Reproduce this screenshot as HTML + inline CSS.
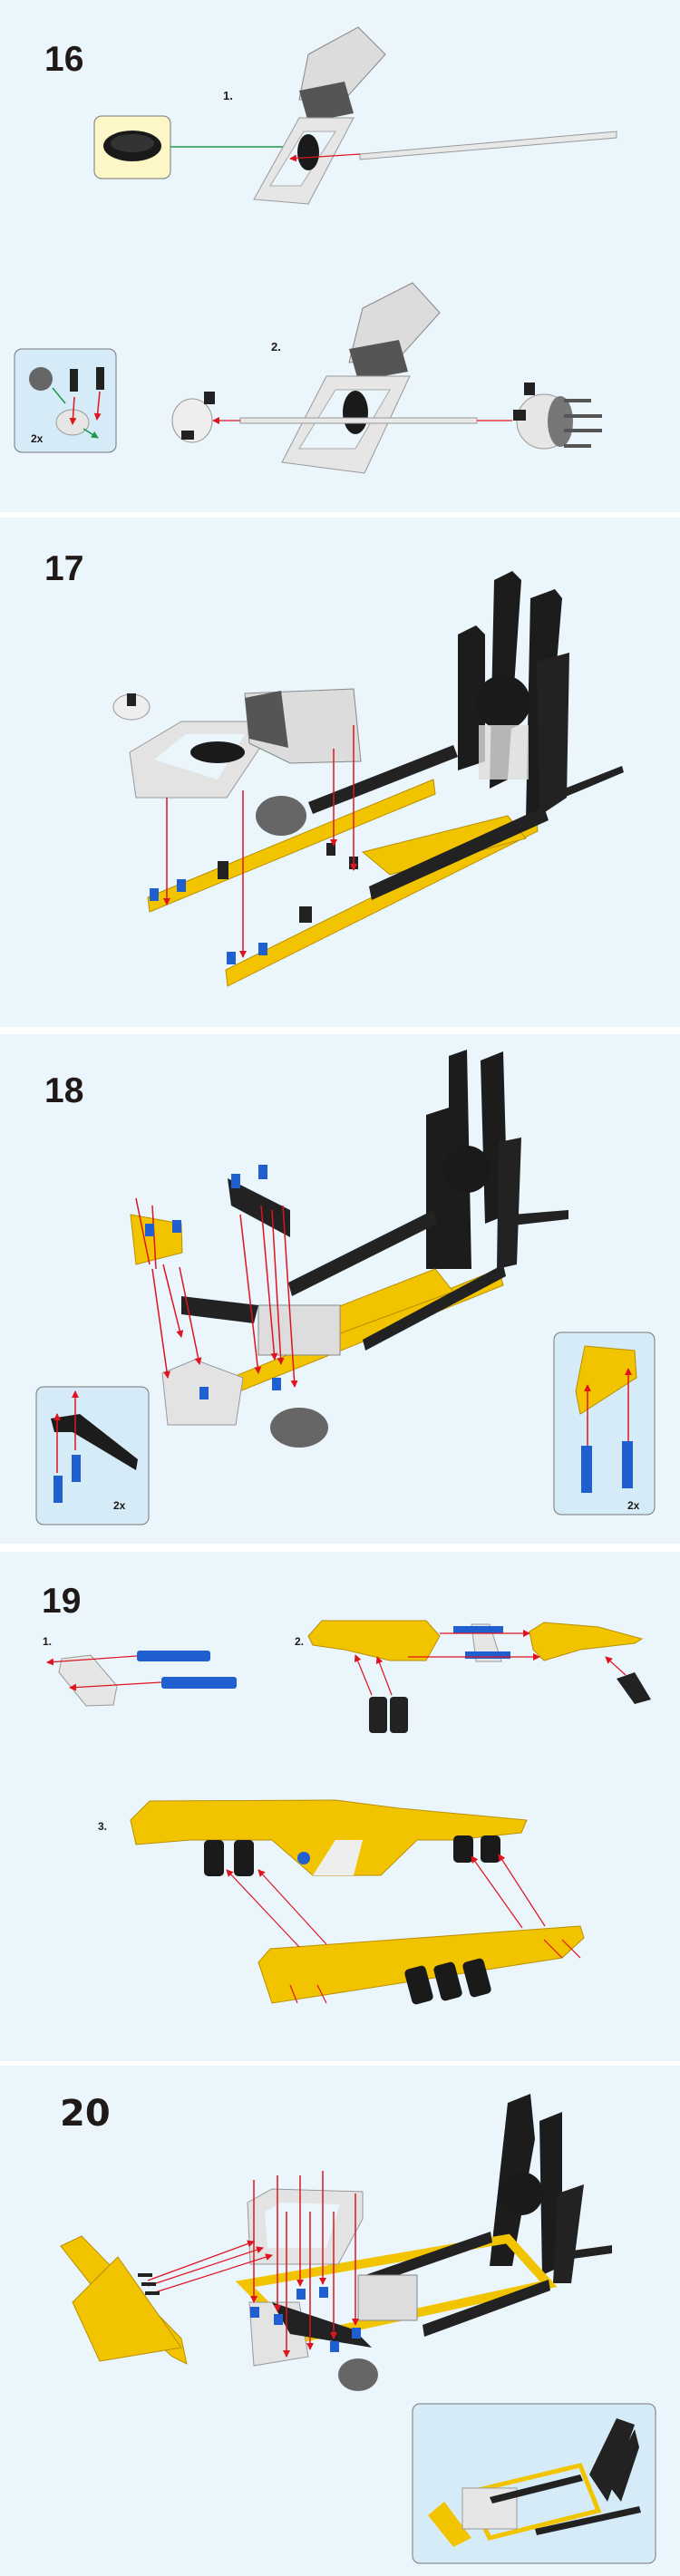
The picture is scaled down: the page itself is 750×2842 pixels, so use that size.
<!DOCTYPE html>
<html><head><meta charset="utf-8"><style>
html,body{margin:0;padding:0;background:#fff}
svg{display:block}
text{font-family:"Liberation Sans",sans-serif;font-weight:bold;fill:#1f1a17}
</style></head><body>
<svg width="750" height="2842" viewBox="0 0 750 2842" xmlns="http://www.w3.org/2000/svg">
<defs>
<marker id="ar" markerWidth="8" markerHeight="8" refX="7" refY="4" orient="auto" markerUnits="userSpaceOnUse"><path d="M0,0 L8,4 L0,8z" fill="#e0141e"/></marker>
<marker id="ag" markerWidth="8" markerHeight="8" refX="7" refY="4" orient="auto" markerUnits="userSpaceOnUse"><path d="M0,0 L8,4 L0,8z" fill="#1a9a4a"/></marker>
</defs>
<!-- panels -->
<rect x="0" y="0" width="750" height="565" fill="#eaf5fc"/>
<rect x="0" y="571" width="750" height="562" fill="#eaf5fc"/>
<rect x="0" y="1141" width="750" height="562" fill="#eaf5fc"/>
<rect x="0" y="1712" width="750" height="562" fill="#eaf5fc"/>
<rect x="0" y="2279" width="750" height="563" fill="#eaf5fc"/>

<text x="49" y="78" font-size="39">16</text>
<text x="49" y="640" font-size="39">17</text>
<text x="49" y="1216" font-size="39">18</text>
<text x="46" y="1779" font-size="39">19</text>
<text x="66" y="2345" font-size="40" style="font-family:'DejaVu Sans',sans-serif">20</text>

<!-- ===== 16 ===== -->
<text x="246" y="110" font-size="13">1.</text>
<rect x="104" y="128" width="84" height="69" rx="8" fill="#fdf6c6" stroke="#777"/>
<ellipse cx="146" cy="161" rx="32" ry="17" fill="#1a1a1a"/>
<ellipse cx="146" cy="158" rx="24" ry="10" fill="#333"/>
<line x1="188" y1="162" x2="328" y2="162" stroke="#1a9a4a" stroke-width="1.5" marker-end="url(#ag)"/>
<polygon points="340,60 395,30 425,60 380,110 330,110" fill="#dcdcdc" stroke="#888"/>
<polygon points="330,100 380,90 390,125 340,135" fill="#555"/>
<polygon points="280,220 330,130 390,130 340,225" fill="#e6e6e6" stroke="#999"/>
<polygon points="298,205 335,145 370,145 332,205" fill="#eaf5fc" stroke="#aaa"/>
<ellipse cx="340" cy="168" rx="12" ry="20" fill="#1a1a1a"/>
<polygon points="397,170 680,145 680,152 397,176" fill="#e8e8e8" stroke="#999"/>
<line x1="397" y1="170" x2="320" y2="175" stroke="#e0141e" stroke-width="1.2" marker-end="url(#ar)"/>

<rect x="16" y="385" width="112" height="114" rx="8" fill="#d5ebf8" stroke="#777"/>
<circle cx="45" cy="418" r="13" fill="#666"/>
<rect x="77" y="407" width="9" height="25" fill="#222"/><rect x="106" y="405" width="9" height="25" fill="#222"/>
<ellipse cx="80" cy="466" rx="18" ry="14" fill="#e6e6e6" stroke="#999"/>
<line x1="82" y1="438" x2="80" y2="468" stroke="#e0141e" stroke-width="1.5" marker-end="url(#ar)"/>
<line x1="110" y1="432" x2="107" y2="463" stroke="#e0141e" stroke-width="1.5" marker-end="url(#ar)"/>
<line x1="58" y1="428" x2="72" y2="445" stroke="#1a9a4a" stroke-width="1.5"/>
<line x1="92" y1="473" x2="108" y2="483" stroke="#1a9a4a" stroke-width="1.5" marker-end="url(#ag)"/>
<text x="34" y="488" font-size="12">2x</text>

<text x="299" y="387" font-size="13">2.</text>
<polygon points="400,340 455,312 485,345 440,395 385,400" fill="#dcdcdc" stroke="#888"/>
<polygon points="385,385 440,375 450,410 395,420" fill="#555"/>
<polygon points="311,510 360,415 452,415 402,522" fill="#e6e6e6" stroke="#999"/>
<polygon points="330,495 370,430 430,430 392,495" fill="#eaf5fc" stroke="#aaa"/>
<ellipse cx="392" cy="455" rx="14" ry="24" fill="#1a1a1a"/>
<rect x="265" y="461" width="261" height="6" fill="#e8e8e8" stroke="#999"/>
<line x1="265" y1="464" x2="235" y2="464" stroke="#e0141e" stroke-width="1.2" marker-end="url(#ar)"/>
<line x1="526" y1="464" x2="565" y2="464" stroke="#e0141e" stroke-width="1.2"/>
<ellipse cx="212" cy="464" rx="22" ry="24" fill="#eee" stroke="#999"/>
<rect x="225" y="432" width="12" height="14" fill="#222"/><rect x="200" y="475" width="14" height="10" fill="#222"/>
<ellipse cx="600" cy="465" rx="30" ry="30" fill="#e6e6e6" stroke="#999"/>
<ellipse cx="618" cy="465" rx="14" ry="28" fill="#777"/>
<rect x="622" y="440" width="30" height="4" fill="#555"/><rect x="622" y="457" width="42" height="4" fill="#555"/><rect x="622" y="473" width="42" height="4" fill="#555"/><rect x="622" y="490" width="30" height="4" fill="#555"/>
<rect x="578" y="422" width="12" height="14" fill="#222"/><rect x="566" y="452" width="14" height="12" fill="#222"/>

<!-- ===== 17 ===== -->
<g>
<polygon points="505,700 525,690 535,700 535,840 505,850" fill="#1c1c1c"/>
<polygon points="545,640 565,630 575,640 560,860 540,870" fill="#1c1c1c"/>
<polygon points="585,660 612,650 620,660 600,900 580,905" fill="#1c1c1c"/>
<polygon points="592,730 628,720 625,880 595,900" fill="#222"/>
<circle cx="555" cy="775" r="30" fill="#1a1a1a"/>
<rect x="528" y="800" width="55" height="60" fill="#ddd" opacity=".8"/>
<polygon points="610,875 686,845 688,852 612,884" fill="#222"/>
<polygon points="163,990 478,860 480,876 165,1006" fill="#f2c400" stroke="#b89000"/>
<polygon points="249,1070 591,900 593,917 251,1088" fill="#f2c400" stroke="#b89000"/>
<polygon points="400,940 560,900 580,925 430,965" fill="#f2c400" stroke="#b89000"/>
<polygon points="340,885 500,822 505,835 345,898" fill="#222"/>
<polygon points="407,978 600,890 605,905 410,993" fill="#222"/>
<polygon points="143,830 200,796 306,796 250,880 150,880" fill="#e3e3e3" stroke="#999"/>
<polygon points="170,838 205,810 270,810 240,860" fill="#eaf5fc"/>
<ellipse cx="240" cy="830" rx="30" ry="12" fill="#1a1a1a"/>
<polygon points="270,765 390,760 398,840 320,842 275,820" fill="#dcdcdc" stroke="#888"/>
<polygon points="270,770 310,762 318,825 275,815" fill="#555"/>
<ellipse cx="145" cy="780" rx="20" ry="14" fill="#eee" stroke="#999"/>
<rect x="140" y="765" width="10" height="14" fill="#222"/>
<ellipse cx="310" cy="900" rx="28" ry="22" fill="#666"/>
<rect x="165" y="980" width="10" height="14" fill="#1f5fd0"/><rect x="195" y="970" width="10" height="14" fill="#1f5fd0"/>
<rect x="250" y="1050" width="10" height="14" fill="#1f5fd0"/><rect x="285" y="1040" width="10" height="14" fill="#1f5fd0"/>
<rect x="240" y="950" width="12" height="20" fill="#222"/><rect x="330" y="1000" width="14" height="18" fill="#222"/>
<rect x="360" y="930" width="10" height="14" fill="#222"/><rect x="385" y="945" width="10" height="14" fill="#222"/>
<line x1="184" y1="880" x2="184" y2="998" stroke="#e0141e" stroke-width="1.5" marker-end="url(#ar)"/>
<line x1="268" y1="872" x2="268" y2="1056" stroke="#e0141e" stroke-width="1.5" marker-end="url(#ar)"/>
<line x1="368" y1="826" x2="368" y2="933" stroke="#e0141e" stroke-width="1.5" marker-end="url(#ar)"/>
<line x1="390" y1="800" x2="390" y2="960" stroke="#e0141e" stroke-width="1.5" marker-end="url(#ar)"/>
</g>

<!-- ===== 18 ===== -->
<g>
<polygon points="495,1165 515,1158 520,1400 495,1400" fill="#1c1c1c"/>
<polygon points="470,1230 495,1222 495,1400 470,1400" fill="#1c1c1c"/>
<polygon points="530,1170 555,1160 560,1340 535,1350" fill="#1c1c1c"/>
<polygon points="550,1260 575,1255 570,1395 548,1400" fill="#222"/>
<circle cx="515" cy="1290" r="26" fill="#1a1a1a"/>
<polygon points="565,1340 627,1335 627,1345 565,1352" fill="#222"/>
<polygon points="218,1535 550,1400 555,1418 222,1552" fill="#f2c400" stroke="#b89000"/>
<polygon points="300,1470 480,1400 500,1425 310,1495" fill="#f2c400" stroke="#b89000"/>
<polygon points="318,1415 478,1335 482,1350 322,1430" fill="#222"/>
<polygon points="400,1478 555,1395 558,1408 403,1490" fill="#222"/>
<polygon points="179,1515 215,1500 268,1520 260,1572 185,1572" fill="#e3e3e3" stroke="#999"/>
<rect x="285" y="1440" width="90" height="55" fill="#ddd" stroke="#888"/>
<ellipse cx="330" cy="1575" rx="32" ry="22" fill="#666"/>
<polygon points="144,1340 200,1350 201,1382 150,1395" fill="#f2c400" stroke="#b89000"/>
<polygon points="251,1300 320,1335 320,1365 255,1330" fill="#222"/>
<polygon points="200,1430 285,1440 280,1460 200,1450" fill="#222"/>
<g stroke="#e0141e" stroke-width="1.5" fill="none">
<line x1="150" y1="1322" x2="165" y2="1395"/><line x1="168" y1="1330" x2="172" y2="1400"/>
<line x1="168" y1="1400" x2="185" y2="1520" marker-end="url(#ar)"/>
<line x1="180" y1="1395" x2="200" y2="1475" marker-end="url(#ar)"/>
<line x1="198" y1="1398" x2="220" y2="1505" marker-end="url(#ar)"/>
<line x1="265" y1="1340" x2="285" y2="1515" marker-end="url(#ar)"/>
<line x1="288" y1="1330" x2="303" y2="1500" marker-end="url(#ar)"/>
<line x1="300" y1="1335" x2="310" y2="1505" marker-end="url(#ar)"/>
<line x1="312" y1="1330" x2="325" y2="1530" marker-end="url(#ar)"/>
</g>
<rect x="255" y="1295" width="10" height="16" fill="#1f5fd0"/><rect x="285" y="1285" width="10" height="16" fill="#1f5fd0"/>
<rect x="160" y="1350" width="10" height="14" fill="#1f5fd0"/><rect x="190" y="1346" width="10" height="14" fill="#1f5fd0"/>
<rect x="220" y="1530" width="10" height="14" fill="#1f5fd0"/><rect x="300" y="1520" width="10" height="14" fill="#1f5fd0"/>
</g>
<rect x="40" y="1530" width="124" height="152" rx="8" fill="#d5ebf8" stroke="#777"/>
<polygon points="56,1565 88,1560 152,1610 150,1622 80,1580 60,1580" fill="#1c1c1c"/>
<line x1="63" y1="1625" x2="63" y2="1560" stroke="#e0141e" stroke-width="1.5" marker-end="url(#ar)"/>
<line x1="83" y1="1600" x2="83" y2="1535" stroke="#e0141e" stroke-width="1.5" marker-end="url(#ar)"/>
<rect x="59" y="1628" width="10" height="30" fill="#1f5fd0"/><rect x="79" y="1605" width="10" height="30" fill="#1f5fd0"/>
<text x="125" y="1665" font-size="12">2x</text>
<rect x="611" y="1470" width="111" height="201" rx="8" fill="#d5ebf8" stroke="#777"/>
<polygon points="635,1535 645,1485 700,1490 702,1520 640,1560" fill="#f2c400" stroke="#b89000"/>
<line x1="648" y1="1595" x2="648" y2="1528" stroke="#e0141e" stroke-width="1.5" marker-end="url(#ar)"/>
<line x1="693" y1="1595" x2="693" y2="1510" stroke="#e0141e" stroke-width="1.5" marker-end="url(#ar)"/>
<rect x="641" y="1595" width="12" height="52" fill="#1f5fd0"/><rect x="686" y="1590" width="12" height="52" fill="#1f5fd0"/>
<text x="692" y="1665" font-size="12">2x</text>

<!-- ===== 19 ===== -->
<text x="47" y="1815" font-size="12">1.</text>
<polygon points="68,1830 100,1826 129,1860 125,1881 95,1882 65,1845" fill="#e6e6e6" stroke="#999"/>
<rect x="151" y="1821" width="81" height="12" rx="3" fill="#1f5fd0"/>
<rect x="178" y="1850" width="83" height="13" rx="3" fill="#1f5fd0"/>
<line x1="151" y1="1827" x2="52" y2="1834" stroke="#e0141e" stroke-width="1.2" marker-end="url(#ar)"/>
<line x1="178" y1="1856" x2="77" y2="1862" stroke="#e0141e" stroke-width="1.2" marker-end="url(#ar)"/>
<text x="325" y="1815" font-size="12">2.</text>
<polygon points="340,1805 355,1788 470,1788 485,1805 470,1832 430,1832 380,1820 345,1815" fill="#f2c400" stroke="#b89000"/>
<polygon points="584,1800 600,1790 660,1795 708,1808 700,1813 640,1820 600,1832 588,1820" fill="#f2c400" stroke="#b89000"/>
<polygon points="520,1792 540,1792 553,1833 525,1833" fill="#e6e6e6" stroke="#999"/>
<rect x="500" y="1794" width="55" height="8" fill="#1f5fd0"/><rect x="513" y="1822" width="50" height="8" fill="#1f5fd0"/>
<line x1="485" y1="1802" x2="584" y2="1802" stroke="#e0141e" stroke-width="1.2" marker-end="url(#ar)"/>
<line x1="450" y1="1828" x2="595" y2="1828" stroke="#e0141e" stroke-width="1.2" marker-end="url(#ar)"/>
<rect x="407" y="1872" width="20" height="40" rx="4" fill="#222"/><rect x="430" y="1872" width="20" height="40" rx="4" fill="#222"/>
<line x1="410" y1="1870" x2="392" y2="1826" stroke="#e0141e" stroke-width="1.2" marker-end="url(#ar)"/>
<line x1="432" y1="1870" x2="416" y2="1828" stroke="#e0141e" stroke-width="1.2" marker-end="url(#ar)"/>
<polygon points="680,1852 700,1845 718,1875 700,1880" fill="#222"/>
<line x1="690" y1="1848" x2="668" y2="1828" stroke="#e0141e" stroke-width="1.2" marker-end="url(#ar)"/>
<text x="108" y="2019" font-size="12">3.</text>
<polygon points="144,2008 165,1987 370,1986 440,1995 581,2008 575,2022 500,2030 460,2030 420,2069 345,2069 300,2030 210,2030 150,2035" fill="#f2c400" stroke="#b89000"/>
<polygon points="370,2030 400,2030 390,2069 345,2069" fill="#eee"/>
<circle cx="335" cy="2050" r="7" fill="#1f5fd0"/>
<rect x="225" y="2030" width="22" height="40" rx="5" fill="#1a1a1a"/><rect x="258" y="2030" width="22" height="40" rx="5" fill="#1a1a1a"/>
<rect x="500" y="2025" width="22" height="30" rx="5" fill="#1a1a1a"/><rect x="530" y="2025" width="22" height="30" rx="5" fill="#1a1a1a"/>
<polygon points="285,2165 298,2150 640,2125 644,2138 620,2160 300,2210" fill="#f2c400" stroke="#b89000"/>
<rect x="450" y="2170" width="24" height="40" rx="5" fill="#1a1a1a" transform="rotate(-15 462 2190)"/>
<rect x="482" y="2166" width="24" height="40" rx="5" fill="#1a1a1a" transform="rotate(-15 494 2186)"/>
<rect x="514" y="2162" width="24" height="40" rx="5" fill="#1a1a1a" transform="rotate(-15 526 2182)"/>
<g stroke="#e0141e" stroke-width="1.2">
<line x1="330" y1="2148" x2="250" y2="2063" marker-end="url(#ar)"/>
<line x1="360" y1="2145" x2="285" y2="2063" marker-end="url(#ar)"/>
<line x1="576" y1="2127" x2="520" y2="2048" marker-end="url(#ar)"/>
<line x1="601" y1="2125" x2="550" y2="2046" marker-end="url(#ar)"/>
<line x1="320" y1="2190" x2="328" y2="2210"/><line x1="350" y1="2190" x2="360" y2="2210"/>
<line x1="600" y1="2140" x2="620" y2="2160"/><line x1="620" y1="2140" x2="640" y2="2160"/>
</g>

<!-- ===== 20 ===== -->
<g>
<polygon points="67,2478 90,2467 200,2580 206,2608 190,2600 100,2520" fill="#f2c400" stroke="#b89000"/>
<polygon points="80,2540 130,2490 200,2590 110,2605" fill="#f2c400" stroke="#b89000"/>
<polygon points="560,2320 585,2310 590,2360 565,2500 540,2500" fill="#1c1c1c"/>
<polygon points="595,2340 620,2330 620,2500 598,2510" fill="#1c1c1c"/>
<polygon points="615,2420 644,2410 630,2519 610,2519" fill="#222"/>
<circle cx="575" cy="2420" r="24" fill="#1a1a1a"/>
<polygon points="617,2485 675,2477 675,2486 617,2494" fill="#222"/>
<polygon points="270,2520 560,2470 605,2520 330,2580" fill="none" stroke="#f2c400" stroke-width="10"/>
<polygon points="397,2512 541,2462 543,2474 399,2524" fill="#222"/>
<polygon points="466,2565 605,2515 607,2527 468,2578" fill="#222"/>
<rect x="395" y="2510" width="65" height="50" fill="#ddd" stroke="#888"/>
<polygon points="273,2430 300,2415 400,2418 400,2448 373,2498 276,2498" fill="#e3e3e3" stroke="#999"/>
<polygon points="292,2440 310,2430 375,2432 360,2480 295,2480" fill="#eaf5fc"/>
<polygon points="275,2540 330,2540 340,2600 280,2610" fill="#e3e3e3" stroke="#999"/>
<polygon points="300,2540 390,2570 410,2590 320,2575" fill="#222"/>
<ellipse cx="395" cy="2620" rx="22" ry="18" fill="#666"/>
<g stroke="#e0141e" stroke-width="1.2">
<line x1="163" y1="2516" x2="280" y2="2473" marker-end="url(#ar)"/>
<line x1="163" y1="2522" x2="290" y2="2480" marker-end="url(#ar)"/>
<line x1="168" y1="2530" x2="300" y2="2488" marker-end="url(#ar)"/>
</g>
<rect x="152" y="2508" width="16" height="4" fill="#222"/><rect x="156" y="2518" width="16" height="4" fill="#222"/><rect x="160" y="2528" width="16" height="4" fill="#222"/>
<g stroke="#e0141e" stroke-width="1.5">
<line x1="280" y1="2405" x2="280" y2="2540" marker-end="url(#ar)"/>
<line x1="306" y1="2400" x2="306" y2="2550" marker-end="url(#ar)"/>
<line x1="316" y1="2440" x2="316" y2="2600" marker-end="url(#ar)"/>
<line x1="331" y1="2400" x2="331" y2="2522" marker-end="url(#ar)"/>
<line x1="342" y1="2440" x2="342" y2="2592" marker-end="url(#ar)"/>
<line x1="356" y1="2395" x2="356" y2="2520" marker-end="url(#ar)"/>
<line x1="368" y1="2440" x2="368" y2="2580" marker-end="url(#ar)"/>
<line x1="392" y1="2420" x2="392" y2="2565" marker-end="url(#ar)"/>
</g>
<rect x="276" y="2545" width="10" height="12" fill="#1f5fd0"/><rect x="302" y="2553" width="10" height="12" fill="#1f5fd0"/>
<rect x="327" y="2525" width="10" height="12" fill="#1f5fd0"/><rect x="352" y="2523" width="10" height="12" fill="#1f5fd0"/>
<rect x="388" y="2568" width="10" height="12" fill="#1f5fd0"/><rect x="364" y="2583" width="10" height="12" fill="#1f5fd0"/>
</g>
<rect x="455" y="2652" width="268" height="176" rx="8" fill="#d5ebf8" stroke="#777"/>
<polygon points="472,2775 490,2760 520,2800 500,2810" fill="#f2c400"/>
<polygon points="515,2750 640,2720 660,2770 540,2800" fill="none" stroke="#f2c400" stroke-width="5"/>
<rect x="510" y="2745" width="60" height="45" fill="#e6e6e6" stroke="#999"/>
<polygon points="540,2755 640,2730 643,2737 543,2762" fill="#222"/>
<polygon points="590,2790 705,2765 707,2772 592,2797" fill="#222"/>
<polygon points="650,2730 680,2668 700,2675 670,2760" fill="#222"/>
<polygon points="670,2740 700,2680 705,2700 685,2760" fill="#222"/>
</svg>
</body></html>
